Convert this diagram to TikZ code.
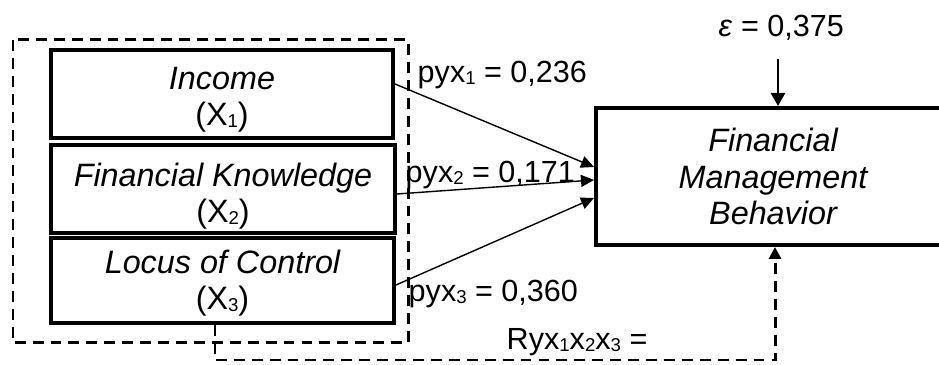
\documentclass[tikz,border=0pt]{standalone}
\usepackage{fontspec}
\setmainfont{Liberation Sans}
\usepackage{tikz}
\usetikzlibrary{arrows.meta}
\newcommand{\ix}[1]{\raisebox{-0.5pt}{\fontsize{5.3}{6}\selectfont #1}}
\tikzset{
  box/.style={
    rectangle, draw, line width=1.14pt,
    minimum width=#1, minimum height=0.88cm,
    align=center, inner sep=0pt,
    font=\fontsize{9.2}{10.4}\selectfont
  },
  box/.default=3.43cm,
  lbl/.style={inner sep=0pt, anchor=base west, font=\fontsize{8.7}{10}\selectfont},
  grp/.style={line width=0.85pt, dash pattern=on 3.1pt off 2pt},
  arr/.style={-{Triangle[length=0.13cm, width=0.12cm]}, line width=0.4pt},
  eArr/.style={-{Triangle[length=0.13cm, width=0.14cm]}, line width=0.8pt},
  dArr/.style={-{Triangle[length=0.12cm, width=0.12cm]}, line width=0.85pt,
    dash pattern=on 3.1pt off 2pt},
}

\begin{document}
\begin{tikzpicture}

\useasboundingbox (0,0) rectangle (9.39,-3.65);
\clip (0,0) rectangle (9.39,-3.65);

\draw[grp] (0.13,-0.40) rectangle (4.08,-3.43);

\node[box=3.42cm, text height=0.70cm, text depth=0.06cm] at (2.22,-0.94) (inc) {
  {\itshape Income}\\(X\ix{1})
};

\node[box=3.44cm, text height=0.74cm, text depth=0.06cm] at (2.23,-1.89) (fk) {
  {\itshape Financial Knowledge}\\(X\ix{2})
};

\node[box=3.43cm, minimum height=0.85cm, text height=0.65cm, text depth=0.06cm] at (2.225,-2.805) (loc) {
  {\itshape Locus of Control}\\(X\ix{3})
};

\node[box=3.54cm, minimum height=1.37cm] at (7.73,-1.765) (fmb) {
  \itshape Financial\\ \itshape Management\\ \itshape Behavior
};

\node[lbl] at (7.18,-0.37) (eps) {\textit{ε} = 0,375};
\node[lbl] at (4.17,-0.83) (p1) {pyx\ix{1} = 0,236};
\node[lbl] at (4.05,-1.83) (p2) {pyx\ix{2} = 0,171};
\node[lbl] at (4.08,-3.02) (p3) {pyx\ix{3} = 0,360};
\node[lbl] at (5.06,-3.50) (r) {Ryx\ix{1}x\ix{2}x\ix{3} =};

\draw[arr] ([yshift=0.1cm]inc.east) -- ([yshift=0.095cm]fmb.west);
\draw[arr] ([yshift=-0.05cm]fk.east) -- ([yshift=-0.035cm]fmb.west);
\draw[arr] ([yshift=-0.045cm]loc.east) -- ([yshift=-0.215cm]fmb.west);

\coordinate (etop) at (7.78,-0.59);
\draw[eArr] (etop) -- (etop |- fmb.north);

\coordinate (rbend) at (7.75,-3.60);
\draw[dArr] ([xshift=-0.075cm]loc.south) |- (rbend) -- (rbend |- fmb.south);

\end{tikzpicture}
\end{document}
